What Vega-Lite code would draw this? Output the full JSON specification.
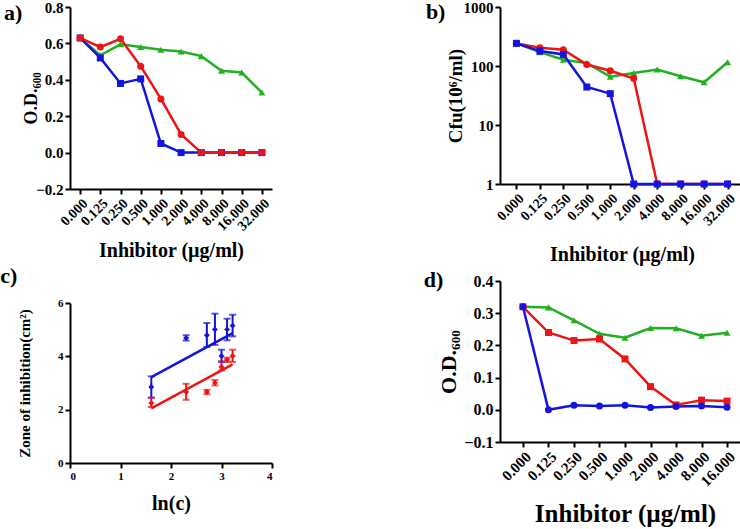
{
  "$schema": "https://vega.github.io/schema/vega-lite/v6.json",
  "padding": 0,
  "background": "white",
  "bounds": "flush",
  "spacing": 430,
  "resolve": {"scale": {"color": "independent", "shape": "independent"}},
  "config": {
    "view": {"stroke": null},
    "axis": {
      "domainColor": "black", "domainWidth": 2, "tickColor": "black", "tickWidth": 2, "tickSize": 5,
      "labelFont": "Liberation Serif", "labelFontWeight": "bold", "labelColor": "black",
      "titleFont": "Liberation Serif", "titleFontWeight": "bold", "titleColor": "black",
      "grid": false, "labelPadding": 2
    },
    "title": {"font": "Liberation Serif", "fontWeight": "bold", "color": "black", "fontSize": 22},
    "legend": {"disable": true}
  },
  "datasets": {
    "a": [
      {"conc": "0.000", "series": "green", "od": 0.63}, {"conc": "0.125", "series": "green", "od": 0.535}, {"conc": "0.250", "series": "green", "od": 0.595}, {"conc": "0.500", "series": "green", "od": 0.58}, {"conc": "1.000", "series": "green", "od": 0.565}, {"conc": "2.000", "series": "green", "od": 0.555}, {"conc": "4.000", "series": "green", "od": 0.53}, {"conc": "8.000", "series": "green", "od": 0.45}, {"conc": "16.000", "series": "green", "od": 0.44}, {"conc": "32.000", "series": "green", "od": 0.33},
      {"conc": "0.000", "series": "blue", "od": 0.63}, {"conc": "0.125", "series": "blue", "od": 0.52}, {"conc": "0.250", "series": "blue", "od": 0.38}, {"conc": "0.500", "series": "blue", "od": 0.405}, {"conc": "1.000", "series": "blue", "od": 0.05}, {"conc": "2.000", "series": "blue", "od": 0.0}, {"conc": "4.000", "series": "blue", "od": 0.0}, {"conc": "8.000", "series": "blue", "od": 0.0}, {"conc": "16.000", "series": "blue", "od": 0.0}, {"conc": "32.000", "series": "blue", "od": 0.0},
      {"conc": "0.000", "series": "red", "od": 0.63}, {"conc": "0.125", "series": "red", "od": 0.58}, {"conc": "0.250", "series": "red", "od": 0.625}, {"conc": "0.500", "series": "red", "od": 0.475}, {"conc": "1.000", "series": "red", "od": 0.295}, {"conc": "2.000", "series": "red", "od": 0.1}, {"conc": "4.000", "series": "red", "od": 0.0}, {"conc": "8.000", "series": "red", "od": 0.0}, {"conc": "16.000", "series": "red", "od": 0.0}, {"conc": "32.000", "series": "red", "od": 0.0}
    ],
    "b": [
      {"conc": "0.000", "series": "green", "cfu": 242}, {"conc": "0.125", "series": "green", "cfu": 172}, {"conc": "0.250", "series": "green", "cfu": 128}, {"conc": "0.500", "series": "green", "cfu": 112}, {"conc": "1.000", "series": "green", "cfu": 66}, {"conc": "2.000", "series": "green", "cfu": 76}, {"conc": "4.000", "series": "green", "cfu": 87}, {"conc": "8.000", "series": "green", "cfu": 67}, {"conc": "16.000", "series": "green", "cfu": 53}, {"conc": "32.000", "series": "green", "cfu": 116},
      {"conc": "0.000", "series": "red", "cfu": 242}, {"conc": "0.125", "series": "red", "cfu": 204}, {"conc": "0.250", "series": "red", "cfu": 189}, {"conc": "0.500", "series": "red", "cfu": 106}, {"conc": "1.000", "series": "red", "cfu": 83}, {"conc": "2.000", "series": "red", "cfu": 61.5}, {"conc": "4.000", "series": "red", "cfu": 1}, {"conc": "8.000", "series": "red", "cfu": 1}, {"conc": "16.000", "series": "red", "cfu": 1}, {"conc": "32.000", "series": "red", "cfu": 1},
      {"conc": "0.000", "series": "blue", "cfu": 242}, {"conc": "0.125", "series": "blue", "cfu": 179}, {"conc": "0.250", "series": "blue", "cfu": 157}, {"conc": "0.500", "series": "blue", "cfu": 44}, {"conc": "1.000", "series": "blue", "cfu": 34}, {"conc": "2.000", "series": "blue", "cfu": 1}, {"conc": "4.000", "series": "blue", "cfu": 1}, {"conc": "8.000", "series": "blue", "cfu": 1}, {"conc": "16.000", "series": "blue", "cfu": 1}, {"conc": "32.000", "series": "blue", "cfu": 1}
    ],
    "c": [
      {"series": "red", "lnc": 1.61, "zone": 2.25, "lo": 2.1, "hi": 2.45}, {"series": "red", "lnc": 2.3, "zone": 2.66, "lo": 2.37, "hi": 2.97}, {"series": "red", "lnc": 2.71, "zone": 2.66, "lo": 2.58, "hi": 2.74}, {"series": "red", "lnc": 2.87, "zone": 3.01, "lo": 2.91, "hi": 3.11}, {"series": "red", "lnc": 3.0, "zone": 3.6, "lo": 3.47, "hi": 3.82}, {"series": "red", "lnc": 3.11, "zone": 3.87, "lo": 3.79, "hi": 3.95}, {"series": "red", "lnc": 3.22, "zone": 4.01, "lo": 3.79, "hi": 4.25},
      {"series": "blue", "lnc": 1.61, "zone": 2.85, "lo": 2.45, "hi": 3.25}, {"series": "blue", "lnc": 2.3, "zone": 4.69, "lo": 4.59, "hi": 4.79}, {"series": "blue", "lnc": 2.71, "zone": 4.79, "lo": 4.35, "hi": 5.25}, {"series": "blue", "lnc": 2.87, "zone": 5.01, "lo": 4.43, "hi": 5.6}, {"series": "blue", "lnc": 3.0, "zone": 4.01, "lo": 3.79, "hi": 4.25}, {"series": "blue", "lnc": 3.11, "zone": 5.01, "lo": 4.6, "hi": 5.41}, {"series": "blue", "lnc": 3.22, "zone": 5.15, "lo": 4.75, "hi": 5.56}
    ],
    "cfit": [
      {"series": "red", "lnc": 1.61, "zone": 2.05}, {"series": "red", "lnc": 3.22, "zone": 3.7},
      {"series": "blue", "lnc": 1.61, "zone": 3.22}, {"series": "blue", "lnc": 3.22, "zone": 4.87}
    ],
    "d": [
      {"conc": "0.000", "series": "green", "od": 0.32}, {"conc": "0.125", "series": "green", "od": 0.318}, {"conc": "0.250", "series": "green", "od": 0.278}, {"conc": "0.500", "series": "green", "od": 0.236}, {"conc": "1.000", "series": "green", "od": 0.224}, {"conc": "2.000", "series": "green", "od": 0.254}, {"conc": "4.000", "series": "green", "od": 0.253}, {"conc": "8.000", "series": "green", "od": 0.23}, {"conc": "16.000", "series": "green", "od": 0.239},
      {"conc": "0.000", "series": "red", "od": 0.32}, {"conc": "0.125", "series": "red", "od": 0.24}, {"conc": "0.250", "series": "red", "od": 0.215}, {"conc": "0.500", "series": "red", "od": 0.22}, {"conc": "1.000", "series": "red", "od": 0.158}, {"conc": "2.000", "series": "red", "od": 0.072}, {"conc": "4.000", "series": "red", "od": 0.015}, {"conc": "8.000", "series": "red", "od": 0.03}, {"conc": "16.000", "series": "red", "od": 0.027},
      {"conc": "0.000", "series": "blue", "od": 0.32}, {"conc": "0.125", "series": "blue", "od": 0.0}, {"conc": "0.250", "series": "blue", "od": 0.014}, {"conc": "0.500", "series": "blue", "od": 0.012}, {"conc": "1.000", "series": "blue", "od": 0.014}, {"conc": "2.000", "series": "blue", "od": 0.007}, {"conc": "4.000", "series": "blue", "od": 0.01}, {"conc": "8.000", "series": "blue", "od": 0.012}, {"conc": "16.000", "series": "blue", "od": 0.008}
    ]
  },
  "hconcat": [
    {
      "bounds": "flush",
      "spacing": 114,
      "resolve": {"scale": {"color": "independent", "shape": "independent"}},
      "vconcat": [
        {
          "width": 202, "height": 182,
          "title": {"text": "a)", "orient": "left", "anchor": "end", "angle": 0, "align": "right", "baseline": "top", "offset": -18, "dy": 3},
          "data": {"name": "a"},
          "encoding": {
            "x": {"field": "conc", "type": "ordinal", "sort": null, "scale": {"type": "point", "padding": 0.5},
                  "axis": {"title": "Inhibitor (µg/ml)", "labelAngle": -45, "labelFontSize": 14, "titleFontSize": 20, "titlePadding": 7}},
            "y": {"field": "od", "type": "quantitative", "scale": {"domain": [-0.2, 0.8], "nice": false},
                  "axis": {"title": "O.D.₆₀₀", "values": [-0.2, 0, 0.2, 0.4, 0.6, 0.8], "format": ".1f", "labelFontSize": 15, "titleFontSize": 18, "titlePadding": -5}},
            "color": {"field": "series", "type": "nominal", "scale": {"domain": ["green", "blue", "red"], "range": ["#22b022", "#1414e0", "#ee1414"]}}
          },
          "layer": [
            {"mark": {"type": "rule", "color": "#999999", "strokeDash": [1, 2], "strokeWidth": 1}, "encoding": {"y": {"datum": 0}, "color": {"value": "#999999"}}},
            {"mark": {"type": "line", "strokeWidth": 2.5}},
            {"mark": {"type": "point", "filled": true, "size": 49, "opacity": 1},
             "encoding": {"shape": {"field": "series", "type": "nominal", "scale": {"domain": ["green", "blue", "red"], "range": ["triangle-up", "square", "circle"]}}}}
          ]
        },
        {
          "width": 202, "height": 160,
          "title": {"text": "c)", "orient": "left", "anchor": "end", "angle": 0, "align": "right", "baseline": "top", "offset": -17, "dy": -31},
          "encoding": {
            "x": {"field": "lnc", "type": "quantitative", "scale": {"domain": [0, 4], "nice": false},
                  "axis": {"title": "ln(c)", "values": [0, 1, 2, 3, 4], "labelFontSize": 11, "titleFontSize": 20, "titlePadding": 12}},
            "y": {"field": "zone", "type": "quantitative", "scale": {"domain": [0, 6], "nice": false},
                  "axis": {"title": "Zone of inhibition(cm²)", "values": [0, 2, 4, 6], "labelFontSize": 11, "titleFontSize": 15, "titlePadding": 25}},
            "color": {"field": "series", "type": "nominal", "scale": {"domain": ["red", "blue"], "range": ["#ee1414", "#1414e0"]}}
          },
          "layer": [
            {"data": {"name": "cfit"}, "mark": {"type": "line", "strokeWidth": 2.5}},
            {"data": {"name": "c"}, "mark": {"type": "rule", "strokeWidth": 2}, "encoding": {"y": {"field": "lo", "type": "quantitative"}, "y2": {"field": "hi"}}},
            {"data": {"name": "c"}, "mark": {"type": "tick", "orient": "horizontal", "size": 7, "thickness": 2}, "encoding": {"y": {"field": "lo", "type": "quantitative"}}},
            {"data": {"name": "c"}, "mark": {"type": "tick", "orient": "horizontal", "size": 7, "thickness": 2}, "encoding": {"y": {"field": "hi", "type": "quantitative"}}},
            {"data": {"name": "c"}, "mark": {"type": "point", "filled": true, "size": 35, "opacity": 1, "shape": "diamond"}}
          ]
        }
      ]
    },
    {
      "bounds": "flush",
      "spacing": 97,
      "resolve": {"scale": {"color": "independent", "shape": "independent"}},
      "vconcat": [
        {
          "width": 244, "height": 177,
          "title": {"text": "b)", "orient": "left", "anchor": "end", "angle": 0, "align": "right", "baseline": "top", "offset": -19, "dy": 2},
          "data": {"name": "b"},
          "encoding": {
            "x": {"field": "conc", "type": "ordinal", "sort": null, "scale": {"type": "point", "padding": 0.7},
                  "axis": {"title": "Inhibitor (µg/ml)", "labelAngle": -45, "labelFontSize": 14, "titleFontSize": 20, "titlePadding": 16}},
            "y": {"field": "cfu", "type": "quantitative", "scale": {"type": "log", "domain": [1, 1000], "nice": false},
                  "axis": {"title": "Cfu(10⁶/ml)", "values": [1, 10, 100, 1000], "format": "d", "labelFontSize": 15, "titleFontSize": 19, "titlePadding": -2}},
            "color": {"field": "series", "type": "nominal", "scale": {"domain": ["green", "red", "blue"], "range": ["#22b022", "#ee1414", "#1414e0"]}}
          },
          "layer": [
            {"mark": {"type": "line", "strokeWidth": 2.5}},
            {"mark": {"type": "point", "filled": true, "size": 49, "opacity": 1},
             "encoding": {"shape": {"field": "series", "type": "nominal", "scale": {"domain": ["green", "red", "blue"], "range": ["triangle-up", "circle", "square"]}}}}
          ]
        },
        {
          "width": 250, "height": 161,
          "title": {"text": "d)", "orient": "left", "anchor": "end", "angle": 0, "align": "right", "baseline": "top", "offset": -25, "dy": -3},
          "data": {"name": "d"},
          "encoding": {
            "x": {"field": "conc", "type": "ordinal", "sort": null, "scale": {"type": "point", "padding": 0.9},
                  "axis": {"title": "Inhibitor (µg/ml)", "labelAngle": -45, "labelFontSize": 15, "titleFontSize": 25, "titlePadding": 13}},
            "y": {"field": "od", "type": "quantitative", "scale": {"domain": [-0.1, 0.4], "nice": false},
                  "axis": {"title": "O.D.₆₀₀", "values": [-0.1, 0, 0.1, 0.2, 0.3, 0.4], "format": ".1f", "labelFontSize": 16, "titleFontSize": 22, "titlePadding": 3}},
            "color": {"field": "series", "type": "nominal", "scale": {"domain": ["green", "red", "blue"], "range": ["#22b022", "#ee1414", "#1414e0"]}}
          },
          "layer": [
            {"mark": {"type": "rule", "strokeDash": [2, 5], "strokeWidth": 2}, "encoding": {"y": {"datum": 0}, "color": {"value": "black"}}},
            {"mark": {"type": "line", "strokeWidth": 2.5}},
            {"mark": {"type": "point", "filled": true, "size": 49, "opacity": 1},
             "encoding": {"shape": {"field": "series", "type": "nominal", "scale": {"domain": ["green", "red", "blue"], "range": ["triangle-up", "square", "circle"]}}}}
          ]
        }
      ]
    }
  ]
}
